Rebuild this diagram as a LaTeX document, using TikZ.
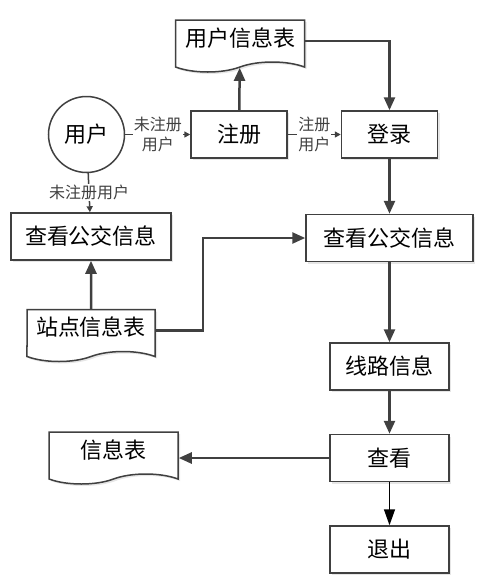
\documentclass[tikz,border=0pt]{standalone}
\usepackage{fontspec}
\setmainfont{Noto Sans CJK SC}
\usetikzlibrary{arrows.meta,positioning,shapes.symbols,shadows}
\definecolor{lngray}{HTML}{404040}

\begin{document}
\begin{tikzpicture}[x=1pt, y=1pt,
    box/.style={draw=lngray, line width=1.5pt, fill=white,
                drop shadow={shadow xshift=2pt, shadow yshift=-2pt, opacity=0.2},
                minimum width=96pt, minimum height=47pt, inner sep=0pt,
                font=\fontsize{22}{26}\selectfont},
    doc/.style={tape, tape bend top=none, tape bend bottom=in and out,
                tape bend height=10pt, draw=lngray, line width=1.5pt, fill=white,
                drop shadow={shadow xshift=2pt, shadow yshift=-2pt, opacity=0.2},
                minimum width=129pt, minimum height=52pt, inner sep=0pt,
                text depth=8pt, font=\fontsize{22}{26}\selectfont},
    circ/.style={circle, draw=lngray, line width=1.5pt, fill=white,
                 minimum size=76pt, inner sep=0pt,
                 font=\fontsize{22}{26}\selectfont},
    lbl/.style={fill=white, inner sep=1pt, align=center,
                font=\fontsize{16}{20}\selectfont},
    arr/.style={-{Triangle[length=13pt,width=11pt]}, line width=2.5pt, color=lngray},
    sarr/.style={-{Triangle[length=6pt,width=6pt]}, line width=1.5pt, color=lngray},
    earr/.style={-{Triangle[length=16pt,width=11pt]}, line width=1.5pt, color=black}
  ]
    \useasboundingbox (0,0) rectangle (487,-582);
    % top row
    \node[box] (login) at (389.5,-134.5) {登录};
    \node[box, left=53pt of login] (reg) {注册};
    \node[circ, left=65pt of reg] (user) {用户};
    \node[doc] (usertab) at (240,-41) {用户信息表};
    % right column
    \node[box, minimum width=167pt, below=55pt of login] (bus2) {查看公交信息};
    \node[box, minimum width=119pt, below=80pt of bus2] (route) {线路信息};
    \node[box, minimum width=119pt, below=43pt of route] (check) {查看};
    \node[box, minimum width=119pt, below=43pt of check] (exit) {退出};
    % left column
    \node[box, minimum width=160pt] (bus1) at (91,-236.5) {查看公交信息};
    \node[doc, minimum width=128pt] (stattab) at (91,-330.5) {站点信息表};
    \node[doc] (infotab) at (113.5,-453) {信息表};

    \draw[sarr] (user) -- node[lbl] {未注册\\用户} (reg);
    \draw[sarr] (reg) -- node[lbl] {注册\\用户} (login);
    \draw[sarr] (user) -- node[lbl] {未注册用户} (bus1);
    \draw[arr] (reg) -- (usertab);
    \draw[arr] (usertab.east) -| (login);
    \draw[arr] (login) -- (bus2);
    \draw[arr] (stattab) -- (bus1);
    \draw[arr] (stattab.east) -- ++(47,0) |- (bus2);
    \draw[arr] (bus2) -- (route);
    \draw[arr] (route) -- (check);
    \draw[arr] (check) -- (check -| infotab.east);
    \draw[earr] (check) -- (exit);
\end{tikzpicture}
\end{document}
